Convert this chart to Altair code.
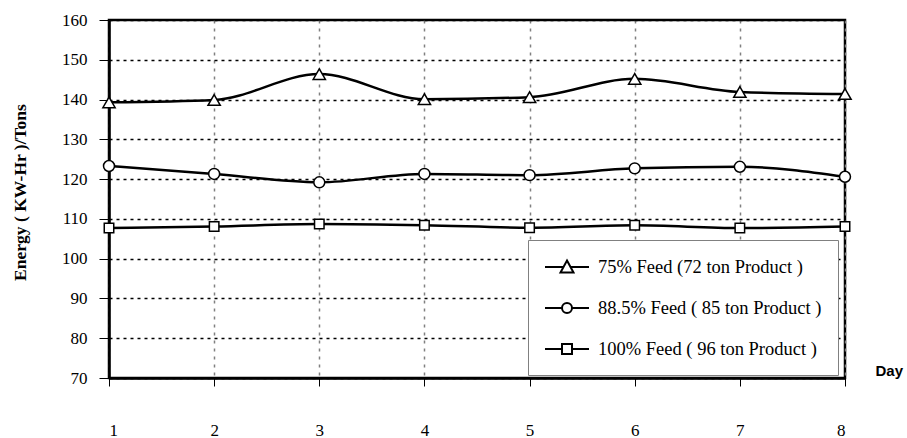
import altair as alt
import pandas as pd

days = [1, 2, 3, 4, 5, 6, 7, 8]
series_names = [
    "75% Feed (72 ton Product )",
    "88.5% Feed ( 85 ton Product )",
    "100% Feed ( 96 ton Product )",
]
feed75 = [139.3, 139.9, 146.4, 140.1, 140.6, 145.2, 141.9, 141.4]
feed885 = [123.3, 121.3, 119.2, 121.3, 121.0, 122.7, 123.1, 120.6]
feed100 = [107.7, 108.1, 108.7, 108.4, 107.8, 108.4, 107.7, 108.1]
y_ticks = [70, 80, 90, 100, 110, 120, 130, 140, 150, 160]

rows = []
for name, vals in zip(series_names, [feed75, feed885, feed100]):
    for d, v in zip(days, vals):
        rows.append({"day": d, "energy": v, "series": name})
df = pd.DataFrame(rows)

chart_shapes = ["triangle-up", "circle", "square"]
# legend glyphs: a short line with the marker in its middle (unit = 10 px)
legend_shapes = [
    "M-1,0L0.85,0M1.55,0L3.4,0M1.2,-0.65L1.85,0.55L0.55,0.55Z",
    "M-1,0L0.7,0M1.7,0L3.4,0M0.7,0A0.5,0.5,0,1,0,1.7,0A0.5,0.5,0,1,0,0.7,0Z",
    "M-1,0L0.7,0M1.7,0L3.4,0M0.7,-0.5L1.7,-0.5L1.7,0.5L0.7,0.5Z",
]

serif = "Liberation Serif, Times New Roman, serif"

xscale = alt.Scale(domain=[1, 8], nice=False, zero=False)
yscale = alt.Scale(domain=[70, 160], nice=False, zero=False)

x_enc = alt.X(
    "day:Q",
    scale=xscale,
    axis=alt.Axis(
        values=days,
        format="d",
        grid=True,
        gridColor="#808080",
        gridDash=[3, 5],
        gridWidth=1.5,
        domainColor="black",
        domainWidth=2.5,
        tickColor="black",
        tickSize=8,
        labelFont=serif,
        labelFontSize=17,
        labelColor="black",
        labelBaseline="top",
        labelPadding=36,
        title="Day",
        titleFont="Liberation Sans",
        titleFontWeight="bold",
        titleFontSize=15,
        titleColor="black",
        titleAnchor="start",
        titleAlign="left",
        titleBaseline="middle",
        titleX=766,
        titleY=-8,
    ),
)
y_enc = alt.Y(
    "energy:Q",
    scale=yscale,
    axis=alt.Axis(
        values=y_ticks,
        grid=True,
        gridColor="black",
        gridDash=[3, 4],
        gridWidth=1.5,
        domainColor="black",
        domainWidth=2.5,
        tickColor="black",
        tickSize=10,
        labelFont=serif,
        labelFontSize=17,
        labelColor="black",
        labelPadding=12,
        title="Energy ( KW-Hr )/Tons",
        titleFont=serif,
        titleFontWeight="bold",
        titleFontSize=17.5,
        titleColor="black",
        titleAngle=270,
        titleAnchor="middle",
        titleAlign="center",
        titleBaseline="middle",
        titleX=-89,
        titleY=172,
    ),
)

base = alt.Chart(df)

lines = base.mark_line(color="black", strokeWidth=2.5, interpolate="monotone").encode(
    x=x_enc, y=y_enc, detail="series:N"
)

points = base.mark_point(filled=True, fill="white", stroke="black", strokeWidth=1.5, opacity=1).encode(
    x=x_enc,
    y=y_enc,
    shape=alt.Shape("series:N", scale=alt.Scale(domain=series_names, range=chart_shapes), legend=None),
    size=alt.Size("series:N", scale=alt.Scale(domain=series_names, range=[150, 90, 110]), legend=None),
)

legend_layer = base.transform_filter("false").mark_point(
    filled=False, color="black", strokeWidth=2, opacity=1
).encode(
    x=x_enc,
    y=y_enc,
    shape=alt.Shape(
        "series:N",
        scale=alt.Scale(domain=series_names, range=legend_shapes),
        legend=alt.Legend(
            title=None,
            orient="none",
            legendX=419,
            legendY=220,
            fillColor="white",
            strokeColor="#808080",
            padding=16,
            symbolSize=400,
            symbolStrokeColor="black",
            symbolStrokeWidth=2,
            symbolOpacity=1,
            labelFont=serif,
            labelFontSize=18.5,
            labelColor="black",
            labelOffset=32,
            labelLimit=400,
            rowPadding=20,
        ),
    ),
)

chart = (
    alt.layer(lines, points, legend_layer)
    .resolve_scale(shape="independent", size="independent")
    .properties(
        width=736,
        height=358,
        padding={"left": 109, "top": 20, "right": 62, "bottom": 60},
        autosize=alt.AutoSizeParams(type="none"),
        background="white",
    )
    .configure_view(stroke="black", strokeWidth=2.5)
)

chart.save("out.html", embed_options={"renderer": "svg", "actions": False})
